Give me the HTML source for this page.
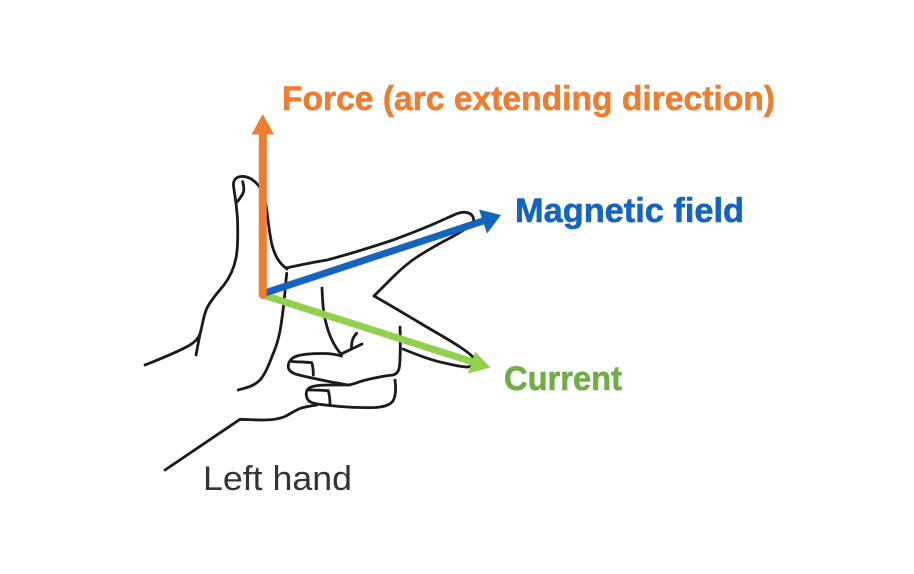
<!DOCTYPE html>
<html>
<head>
<meta charset="utf-8">
<style>
html,body{margin:0;padding:0;background:#ffffff;}
body{width:914px;height:574px;overflow:hidden;}
svg{display:block;}
</style>
</head>
<body>
<svg width="914" height="574" viewBox="0 0 914 574" xmlns="http://www.w3.org/2000/svg">
  <rect width="914" height="574" fill="#ffffff"/>
  <g fill="none" stroke="#1c1a1a" stroke-width="2.8" stroke-linecap="round" stroke-linejoin="round">
    <path d="M145,365 C160,359 178,352 190,345 C195,342 198,339 200,334"/>
    <path d="M196,355 C198,345 199,338 201,330 C203,322 204,314 207,308 C211,300 218,292 224,285 C230,277 234,268 236,258 C238,248 238,235 237.5,220 C237,208 235,196 233.5,186 C233,180 236,177 241,176.5 C247,176 253,179 258,185 C262,190 264,196 266,205 C268,218 269,232 272,245 C275,256 279,263 287,269"/>
    <path d="M242.7,181.7 C243.5,185 244.5,189 243.5,192 C242.5,195 240,198 237.5,201.5"/>
    <path d="M286,268 C300,265 315,262 327,260 C350,254 372,247 393,240 C412,233 430,226 447,218 C452,216 456,213.5 461,212.5 C466,211.5 471,213 473,217 C475,221 472,225 467,228 C462,231 457,234 452,237 C440,243 428,250 417,257 C408,263 400,270 393,277 C387,283 380,290 374,296"/>
    <path d="M374,296 C390,305 405,314 420,323 C435,332 448,339 460,347 C466,351 470,354 473,357 C476,361 474,366 468,367 C460,367 450,364 440,362 C428,359 415,354 403,349"/>
    <path d="M286.7,273.3 C285,290 284,305 282,318 C280,335 277,345 273,354 C269,364 266,373 260,380 C256,384 252,386 247,387.5 C244,388.5 241,389 238.3,390"/>
    <path d="M322,288 C322.5,300 323,312 326,323 C329,335 334,346 341,354"/>
    <path d="M341,354 C345,352 352,349 362,344"/>
    <path d="M356.7,333.3 C353,337 351.5,341 351.5,348"/>
    <path d="M341.7,356 C335,354 329,353.5 323,353.5 C313,353.5 303,354 297,356 C291,358 288,362 288.3,367 C288.6,371 292,373 297,374.5 C305,376.5 316,379 330,381.7 C338,383 344,384.5 348.3,385 C353,384.5 357,382.5 362,381 C371,378.5 384,376 393,375 C397,374 399,371 399.5,366 C400.5,357 400.5,345 400,327"/>
    <path d="M292,361.5 C299,362 305,362 311.7,362.7 C312.8,366 313.3,370 313.3,375"/>
    <path d="M348.3,385 C342,385 336,385 330,385 C322,385 315,385.5 311,387 C307,389 305.5,392 306.5,396 C307,400 310,402.5 315,403.5 C322,405 330,405.5 340,406.5 C352,407.5 365,407.8 375,407.5 C384,407 390,405 393,401 C396,396 396,388 395,380"/>
    <path d="M309,390 C316,390 322,390.3 328.3,390.7 C329.5,395 330,400 330,405"/>
    <path d="M317,405 C310,406 304,407 300,408.5 C294,411 290,414 285,416.5 C279,419 272,420 264,420 C256,420 248,419.5 240,419.3 L165,470"/>
  </g>
  <line x1="263" y1="295" x2="473" y2="362" stroke="#92D050" stroke-width="7"/>
  <polygon points="490.5,367.5 475,351.5 468,373.5" fill="#92D050"/>
  <line x1="265" y1="293" x2="486" y2="220" stroke="#1565C0" stroke-width="7"/>
  <polygon points="501,215 479,209.5 487,233.5" fill="#1565C0"/>
  <line x1="262.8" y1="295" x2="262.8" y2="132" stroke="#ED7D31" stroke-width="8" stroke-linecap="round"/>
  <polygon points="251.5,134.5 262.7,114 274,134.5" fill="#ED7D31"/>
  <text x="282" y="110" font-family="'Liberation Sans', Arial, sans-serif" font-weight="bold" font-size="34" fill="#ED7D31" stroke="#ED7D31" stroke-width="0.6" textLength="493" lengthAdjust="spacingAndGlyphs">Force (arc extending direction)</text>
  <text x="515" y="222" font-family="'Liberation Sans', Arial, sans-serif" font-weight="bold" font-size="34" fill="#1565C0" stroke="#1565C0" stroke-width="0.6" textLength="229" lengthAdjust="spacingAndGlyphs">Magnetic field</text>
  <text x="504" y="390" font-family="'Liberation Sans', Arial, sans-serif" font-weight="bold" font-size="34" fill="#70AD47" stroke="#70AD47" stroke-width="0.6" textLength="118" lengthAdjust="spacingAndGlyphs">Current</text>
  <text x="203" y="490" font-family="'Liberation Sans', Arial, sans-serif" font-size="34" fill="#333333" textLength="149" lengthAdjust="spacingAndGlyphs">Left hand</text>
</svg>
</body>
</html>
